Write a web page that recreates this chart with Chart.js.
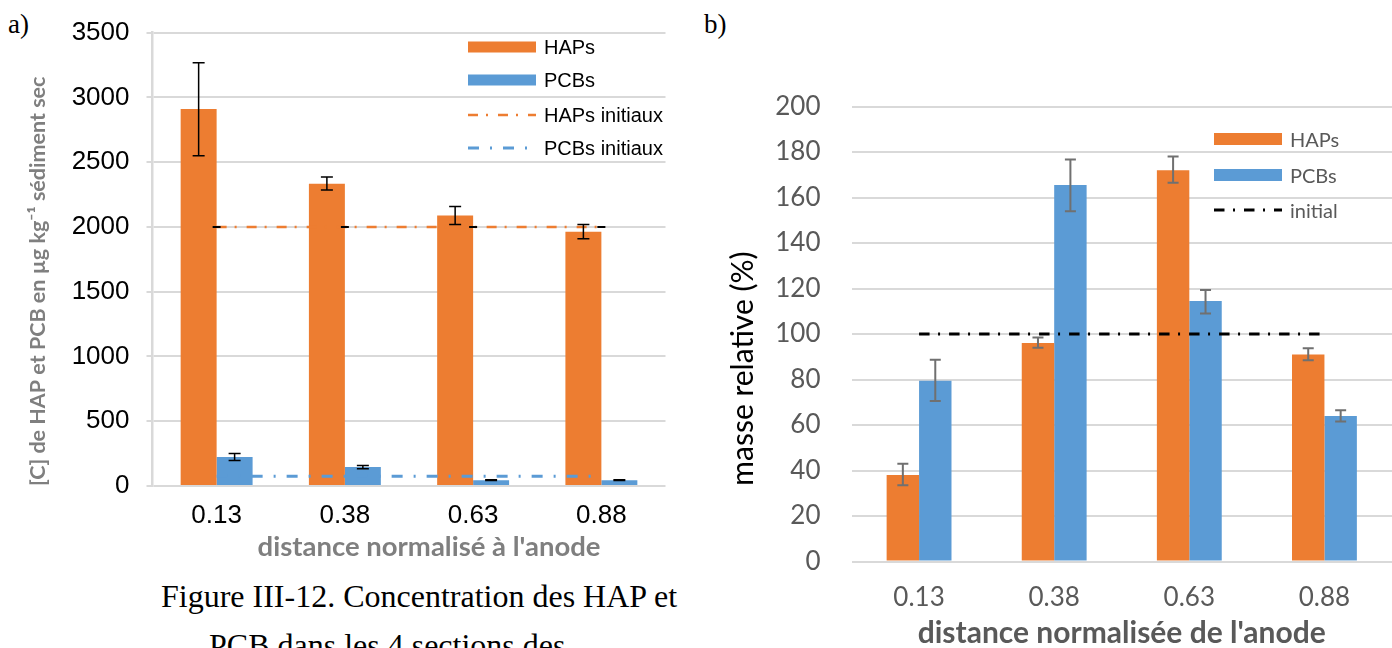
<!DOCTYPE html>
<html><head><meta charset="utf-8">
<script src="https://cdn.jsdelivr.net/npm/chart.js@4/dist/chart.umd.min.js"></script>
<style>
html,body{margin:0;padding:0;background:#fff;width:1392px;height:648px;overflow:hidden;position:relative;}
.box{position:absolute;}
.serif{position:absolute;font-family:"Liberation Serif","Times New Roman",serif;color:#000;line-height:1;white-space:nowrap;}
.leg{position:absolute;white-space:nowrap;line-height:1;}
.leg svg{position:absolute;left:0;}
.leg span{position:absolute;}
</style></head><body>
<div class="serif" style="left:8px;top:11px;font-size:27px">a)</div>
<div class="serif" style="left:704px;top:11px;font-size:27px">b)</div>
<div class="box" style="left:0;top:0;"><canvas id="ca" width="700" height="564"></canvas></div>
<div class="box" style="left:700px;top:0;"><canvas id="cb" width="692" height="648"></canvas></div>
<div id="legA"></div>
<div id="legB"></div>
<div class="serif" style="left:161px;top:580px;font-size:32px">Figure III-12. Concentration des HAP et</div>
<div class="serif" style="left:209px;top:629px;font-size:32px">PCB dans les 4 sections des</div>
<script>
// ---- data ----
const categories = ['0.13', '0.38', '0.63', '0.88'];

// chart a) concentrations
const hapConc     = [2910, 2334, 2089, 1962];
const hapConcLow  = [2550, 2284, 2018, 1909];
const hapConcHigh = [3268, 2385, 2157, 2018];
const pcbConc     = [223, 146, 45, 45];
const pcbConcLow  = [197, 133, 43, 43];
const pcbConcHigh = [250, 159, 48, 48];
const hapInit     = [2000, 2000, 2000, 2000];
const pcbInit     = [75, 75, 75, 75];
const yTicksA     = [0, 500, 1000, 1500, 2000, 2500, 3000, 3500];

// chart b) relative mass
const hapMass     = [38, 96, 172, 91];
const hapMassLow  = [33.5, 94, 166.5, 88.5];
const hapMassHigh = [43, 98.5, 178, 93.7];
const pcbMass     = [79.5, 165.5, 114.5, 64];
const pcbMassLow  = [70.5, 154, 109, 61.5];
const pcbMassHigh = [88.7, 176.7, 119.3, 66.5];
const initMass    = [100, 100, 100, 100];
const yTicksB     = [0, 20, 40, 60, 80, 100, 120, 140, 160, 180, 200];

const ORANGE = '#ED7D31', BLUE = '#5B9BD5', GRID = '#D9D9D9';
const NB = '\u00A0';

const errorBarPlugin = {
  id: 'errorBars',
  afterDatasetsDraw(chart) {
    const ctx = chart.ctx;
    chart.data.datasets.forEach((ds, i) => {
      if (!ds.errLow) return;
      const meta = chart.getDatasetMeta(i);
      const ys = chart.scales[meta.yAxisID];
      ctx.save();
      ctx.strokeStyle = ds.errColor;
      ctx.lineWidth = ds.errWidth;
      meta.data.forEach((el, j) => {
        const x = el.x;
        const yl = ys.getPixelForValue(ds.errLow[j]);
        const yh = ys.getPixelForValue(ds.errHigh[j]);
        const c = ds.errCap / 2;
        ctx.beginPath();
        if (yl !== yh) { ctx.moveTo(x, yl); ctx.lineTo(x, yh); }
        ctx.moveTo(x - c, yl); ctx.lineTo(x + c, yl);
        ctx.moveTo(x - c, yh); ctx.lineTo(x + c, yh);
        ctx.stroke();
      });
      ctx.restore();
    });
  }
};

// ---- chart a ----
const chartA = new Chart(document.getElementById('ca'), {
  type: 'bar',
  data: {
    labels: categories,
    datasets: [
      { label: 'HAPs', data: hapConc, backgroundColor: ORANGE, order: 1,
        errLow: hapConcLow, errHigh: hapConcHigh, errColor: '#000', errWidth: 1.5, errCap: 12,
        legendType: 'bar' },
      { label: 'PCBs', data: pcbConc, backgroundColor: BLUE, order: 1,
        errLow: pcbConcLow, errHigh: pcbConcHigh, errColor: '#000', errWidth: 1.5, errCap: 12,
        legendType: 'bar' },
      { type: 'line', label: 'HAPs initiaux', data: hapInit, borderColor: ORANGE, borderWidth: 2.5,
        borderDash: [10, 8, 2, 10], pointRadius: 0, fill: false, order: 0,
        errLow: hapInit, errHigh: hapInit, errColor: '#000', errWidth: 2, errCap: 8,
        legendType: 'line' },
      { type: 'line', label: 'PCBs initiaux', data: pcbInit, borderColor: BLUE, borderWidth: 3,
        borderDash: [11, 11, 2, 11], pointRadius: 0, fill: false, order: 0,
        legendType: 'line' }
    ]
  },
  options: {
    responsive: false, animation: false, devicePixelRatio: 1,
    categoryPercentage: 0.561, barPercentage: 1,
    layout: { padding: { left: 25, right: 34.5, top: 27, bottom: 0 } },
    plugins: { legend: { display: false }, tooltip: { enabled: false } },
    scales: {
      x: {
        grid: { display: false, drawTicks: false }, border: { display: false },
        ticks: { color: '#000', font: { family: 'Liberation Sans', size: 26, lineHeight: 1.2 }, padding: 14 },
        title: { display: true, text: NB.repeat(6) + "distance normalisé à l'anode", color: '#7F7F7F', padding: 0,
                 font: { family: 'Lato', weight: 'bold', size: 27.5, lineHeight: 1.2 } },
        afterFit(s) { s.height = 564 - 486; }
      },
      y: {
        min: 0, max: 3500,
        afterBuildTicks(s) { s.ticks = yTicksA.map(v => ({ value: v })); },
        grid: { color: GRID, lineWidth: 2, tickLength: 6 },
        border: { color: GRID, width: 2.5 },
        ticks: { color: '#000', font: { family: 'Liberation Sans', size: 26, lineHeight: 1.2 }, padding: 17,
                 callback: v => String(v) },
        title: { display: true, text: '[C] de HAP et PCB en µg kg⁻¹ sédiment sec', align: 'start',
                 color: '#7F7F7F', padding: 0,
                 font: { family: 'Lato', weight: 'bold', size: 21.5, lineHeight: 1.2 } },
        afterFit(s) { s.width = 152.5 - 25; }
      }
    }
  },
  plugins: [errorBarPlugin]
});

// ---- chart b ----
const chartB = new Chart(document.getElementById('cb'), {
  type: 'bar',
  data: {
    labels: categories,
    datasets: [
      { label: 'HAPs', data: hapMass, backgroundColor: ORANGE, order: 1,
        errLow: hapMassLow, errHigh: hapMassHigh, errColor: '#707070', errWidth: 2, errCap: 11,
        legendType: 'bar' },
      { label: 'PCBs', data: pcbMass, backgroundColor: BLUE, order: 1,
        errLow: pcbMassLow, errHigh: pcbMassHigh, errColor: '#707070', errWidth: 2, errCap: 11,
        legendType: 'bar' },
      { type: 'line', label: 'initial', data: initMass, borderColor: '#000', borderWidth: 3,
        borderDash: [10.5, 8.5, 2, 9], pointRadius: 0, fill: false, order: 0,
        legendType: 'line' }
    ]
  },
  options: {
    responsive: false, animation: false, devicePixelRatio: 1,
    categoryPercentage: 0.48, barPercentage: 1,
    layout: { padding: { left: 25, right: 0, top: 106.5, bottom: 0 } },
    plugins: { legend: { display: false }, tooltip: { enabled: false } },
    scales: {
      x: {
        grid: { display: false, drawTicks: false }, border: { display: false },
        ticks: { color: '#595959', font: { family: 'Lato', size: 26, lineHeight: 1.2 }, padding: 21 },
        title: { display: true, text: "distance normalisée de l'anode", color: '#595959', padding: 0,
                 font: { family: 'Lato', weight: 'bold', size: 30, lineHeight: 1 } },
        afterFit(s) { s.height = 648 - 561.5; }
      },
      y: {
        min: 0, max: 200,
        afterBuildTicks(s) { s.ticks = yTicksB.map(v => ({ value: v })); },
        grid: { color: GRID, lineWidth: 2, drawTicks: false },
        border: { display: false },
        ticks: { color: '#595959', font: { family: 'Lato', size: 26, lineHeight: 1.2 }, padding: 31 },
        title: { display: true, text: 'masse relative (%)' + NB.repeat(9), color: '#000', padding: 0,
                 font: { family: 'Lato', size: 30, lineHeight: 1.2 } },
        afterFit(s) { s.width = 851.5 - 700 - 25; }
      }
    }
  },
  plugins: [errorBarPlugin]
});

// ---- HTML legends built from the chart datasets ----
function buildLegend(chart, hostId, opt) {
  const host = document.getElementById(hostId);
  chart.data.datasets.forEach((ds, i) => {
    const row = document.createElement('div');
    row.className = 'leg';
    row.style.left = opt.x + 'px';
    row.style.top = (opt.rows[i] - 15) + 'px';
    row.style.width = '260px';
    row.style.height = '30px';
    let sw;
    if (ds.legendType === 'bar') {
      sw = `<svg width="${opt.sw}" height="30"><rect x="0" y="${15 - opt.barH / 2}" width="${opt.sw}" height="${opt.barH}" fill="${ds.backgroundColor}"/></svg>`;
    } else {
      sw = `<svg width="${opt.sw}" height="30"><line x1="0" y1="15" x2="${opt.sw}" y2="15" stroke="${ds.borderColor}" stroke-width="${ds.borderWidth}" stroke-dasharray="${ds.borderDash.join(' ')}"/></svg>`;
    }
    row.innerHTML = sw + `<span style="left:${opt.textX}px;top:${15 - opt.fs * 0.6}px;font-family:${opt.font};font-size:${opt.fs}px;line-height:1.2;color:${opt.color}">${ds.label}</span>`;
    host.appendChild(row);
  });
}
buildLegend(chartA, 'legA', { x: 468, rows: [47, 80, 115, 148], sw: 68, barH: 11, textX: 76,
  font: "'Liberation Sans', Arial, sans-serif", fs: 20, color: '#000' });
buildLegend(chartB, 'legB', { x: 1214, rows: [139, 175, 210], sw: 68, barH: 12, textX: 76,
  font: "Lato, sans-serif", fs: 20, color: '#595959' });
</script>
</body></html>
